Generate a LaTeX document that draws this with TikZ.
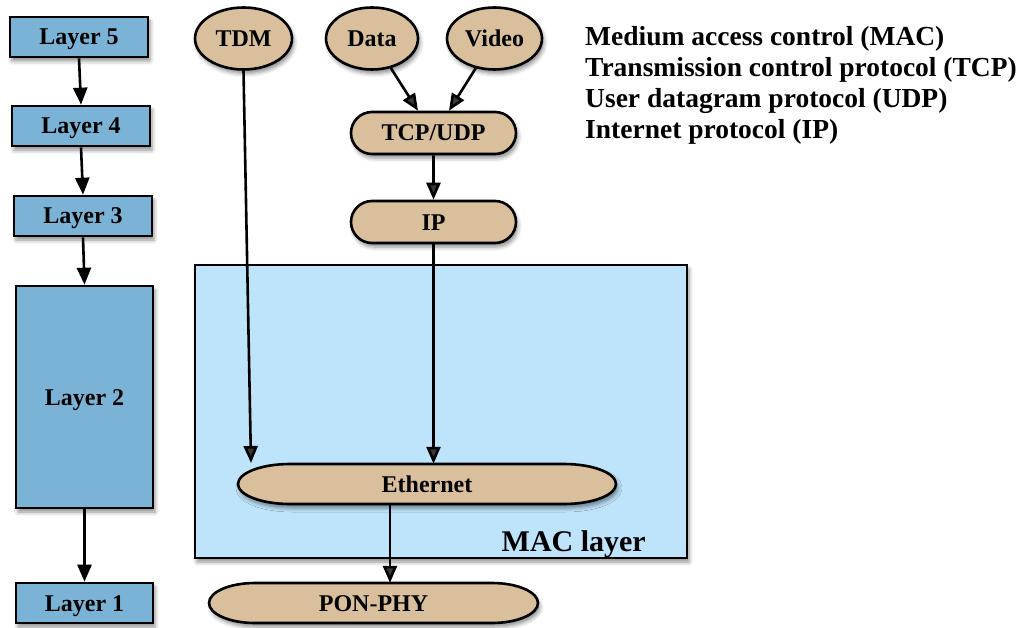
\documentclass[tikz,border=0pt]{standalone}
\usepackage{fontspec}
\setmainfont{Liberation Serif}
\usetikzlibrary{arrows.meta,shadows.blur,shapes.misc,shapes.geometric,calc}
\definecolor{layerblue}{HTML}{7BB3D6}
\definecolor{protan}{HTML}{D9BF9C}
\definecolor{macblue}{HTML}{BEE4FB}
% flat capsule with half-elliptic ends: centre, half width, half height, end radius
\newcommand{\capsule}[4]{%
  \filldraw[capsuleline] ($(#1)+(-#2+#4,-#3)$) -- ($(#1)+(#2-#4,-#3)$)
    arc[start angle=-90,end angle=90,x radius=#4,y radius=#3]
    -- ($(#1)+(-#2+#4,#3)$)
    arc[start angle=90,end angle=270,x radius=#4,y radius=#3] -- cycle;}
\begin{document}
\begin{tikzpicture}[x=1pt,y=-1pt,
  shade/.style={blur shadow={shadow xshift=2pt,shadow yshift=-4pt,shadow blur radius=4pt,shadow opacity=45}},
  caps/.style={text height=16pt,text depth=0pt},
  layerbox/.style={draw=black,line width=2.6pt,fill=layerblue,shade,caps,
    font=\bfseries\fontsize{24}{28}\selectfont,inner sep=0pt},
  proto/.style={draw=black,line width=2.6pt,fill=protan,shade,caps,
    font=\bfseries\fontsize{24}{28}\selectfont,inner sep=0pt},
  capsuleline/.style={draw=black,line width=2.6pt,fill=protan,shade},
  capsuletext/.style={caps,font=\bfseries\fontsize{24}{28}\selectfont,inner sep=0pt},
  pill/.style={proto,rounded rectangle},
  oval/.style={proto,ellipse},
  flow/.style={line width=2.6pt,-{Triangle[length=17pt,width=14pt]}},
  legend/.style={anchor=base west,font=\bfseries\fontsize{27.5}{31}\selectfont,inner sep=0pt}]
\useasboundingbox (0,0) rectangle (1024,628);

% protocol stack layers
\node[layerbox,minimum width=138pt,minimum height=40pt] (l5) at (79,37) {Layer 5};
\node[layerbox,minimum width=138pt,minimum height=40pt] (l4) at (81,126) {Layer 4};
\node[layerbox,minimum width=138pt,minimum height=40pt] (l3) at (83,216) {Layer 3};
\node[layerbox,minimum width=137pt,minimum height=222pt] (l2) at (84.5,397) {Layer 2};
\node[layerbox,minimum width=137pt,minimum height=40pt] (l1) at (84.5,603) {Layer 1};

\draw[flow] (l5.south) -- (l4.north);
\draw[flow] (l4.south) -- (l3.north);
\draw[flow] (l3.south) -- (l2.north);
\draw[flow] (l2.south) -- (l1.north);

% MAC layer region
\node[draw=black,line width=1.2pt,fill=macblue,shade,minimum width=492pt,minimum height=293pt,inner sep=0pt]
  (mac) at (441,411.5) {};
\node[anchor=base east,font=\bfseries\fontsize{30}{34}\selectfont,inner sep=0pt] (maclabel)
  at (646,551) {MAC layer};

% services
\node[oval,minimum width=97pt,minimum height=62pt] (tdm) at (243.5,38.5) {TDM};
\node[oval,minimum width=92pt,minimum height=62pt] (data) at (372,38.5) {Data};
\node[oval,minimum width=95pt,minimum height=62pt] (video) at (494.5,38.5) {Video};

\node[pill,minimum width=165pt,minimum height=42pt] (tcp) at (433.5,133) {TCP/UDP};
\node[pill,minimum width=165pt,minimum height=42pt] (ip) at (433.5,222) {IP};

\coordinate (ethc) at (427,484);
\coordinate (ponc) at (373.5,603);
\capsule{ethc}{189}{20}{52}
\capsule{ponc}{164.5}{20}{46}
\node[capsuletext,minimum width=378pt,minimum height=40pt] (eth) at (ethc) {Ethernet};
\node[capsuletext,minimum width=329pt,minimum height=40pt] (pon) at (ponc) {PON-PHY};

\coordinate (tdmin) at (251,463);
\draw[flow] (data) -- (tcp.north -| 418,0);
\draw[flow] (video) -- (tcp.north -| 449,0);
\draw[flow] (tcp) -- (ip);
\draw[flow] (tdm.south) -- (tdmin);
\draw[flow] (ip.south) -- (ip.south |- eth.north);
\draw[flow] (eth.south -| 390,0) -- (pon.north -| 390,0);

% abbreviations
\node[legend] (t1) at (585,46) {Medium access control (MAC)};
\node[legend] (t2) at (585,77) {Transmission control protocol (TCP)};
\node[legend] (t3) at (585,108) {User datagram protocol (UDP)};
\node[legend] (t4) at (585,139) {Internet protocol (IP)};
\end{tikzpicture}
\end{document}
